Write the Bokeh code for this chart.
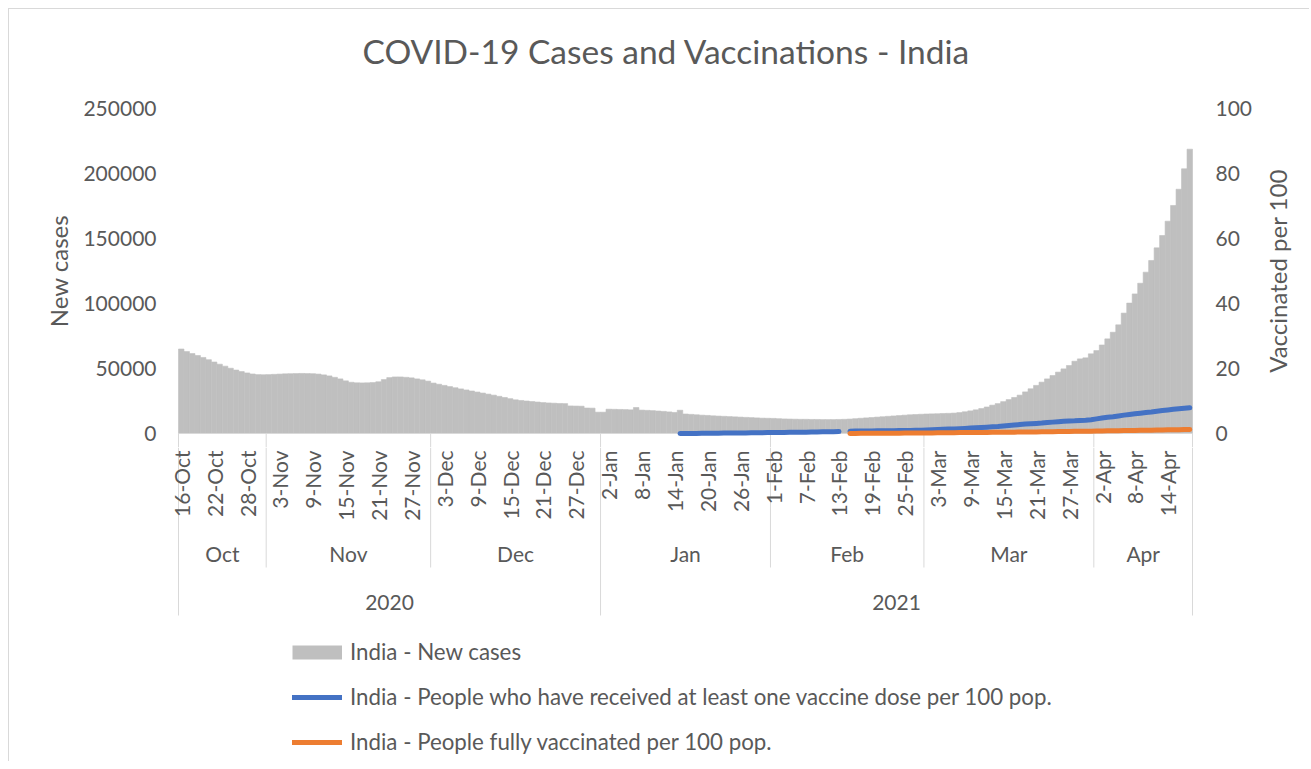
import math
import pandas as pd
from bokeh.plotting import figure
from bokeh.models import (Range1d, FixedTicker, ColumnDataSource, Legend,
                          LegendItem, BasicTickFormatter, Title)
from bokeh.layouts import column
from bokeh.embed import file_html
from bokeh.resources import INLINE
from bokeh.core.properties import value

FONT = "Lato"
TXT = "#595959"
LINEC = "#D9D9D9"
BAR = "#BFBFBF"
BLUE = "#4472C4"
ORANGE = "#ED7D31"

# ---------------- data ----------------
first_day = "2020-10-16"
last_day = "2021-04-18"
vacc_first_day = "2021-01-15"
full_first_day = "2021-02-15"

cases_oct = [65000, 63000, 61500, 60000, 58500, 56800, 55000, 53300, 51800, 50200,
             48800, 47600, 46600, 45800, 45300, 45200]
cases_nov = [45300, 45500, 45700, 45900, 46000, 46100, 46200, 46100, 46000, 45700,
             45100, 44300, 43200, 42000, 40500, 39400, 39000, 38900, 39000, 39200,
             39800, 41500, 43000, 43500, 43500, 43200, 42800, 42000, 41300, 40300]
cases_dec = [38800, 37900, 37000, 36100, 35200, 34300, 33500, 32700, 31900, 31100,
             30300, 29500, 28600, 27700, 26800, 25900, 25400, 25000, 24600, 24200,
             23800, 23500, 23300, 23100, 23000, 21200, 21100, 21000, 19600, 19500, 16400]
cases_jan = [16400, 18700, 18600, 18500, 18400, 18200, 20000, 18000, 17800, 17600,
             17300, 17000, 16600, 16200, 17900, 15000, 14700, 14400, 14100, 13900,
             13600, 13400, 13200, 13000, 12800, 12600, 12400, 12200, 12000, 11800, 11700]
cases_feb = [11600, 11400, 11200, 11100, 11000, 10900, 10900, 10800, 10800, 10700,
             10700, 10700, 10800, 10900, 11100, 11400, 11700, 12000, 12300, 12600,
             12900, 13200, 13500, 13800, 14100, 14400, 14600, 14800]
cases_mar = [15000, 15100, 15200, 15400, 15500, 15700, 16100, 16700, 17400, 18200,
             19200, 20400, 21800, 23000, 24500, 26100, 27700, 29500, 32000, 34400,
             37000, 39500, 42000, 44600, 47200, 49700, 52300, 55600, 57400, 58200, 61300]
cases_apr = [63800, 68100, 72800, 77900, 83600, 92600, 100300, 107400, 115600, 124100,
             133100, 142800, 152300, 163300, 175400, 187900, 203600, 218700]

nan = float("nan")
dose1_jan = [0.00, 0.01, 0.02, 0.03, 0.05, 0.06, 0.08, 0.10, 0.12, 0.12, 0.14, 0.15,
             0.17, 0.20, 0.23, 0.26, 0.27]
dose1_feb = [0.29, 0.31, 0.34, 0.37, 0.40, 0.42, 0.42, 0.45, 0.48, 0.51, 0.53, 0.55,
             0.58, nan, 0.72, 0.74, 0.76, 0.78, 0.80, 0.82, 0.83, 0.85, 0.87, 0.90,
             0.93, 0.96, 0.98, 1.00]
dose1_mar = [1.05, 1.12, 1.20, 1.28, 1.35, 1.42, 1.48, 1.57, 1.66, 1.76, 1.86, 1.96,
             2.06, 2.15, 2.30, 2.45, 2.60, 2.75, 2.90, 3.00, 3.10, 3.20, 3.35, 3.50,
             3.62, 3.74, 3.84, 3.90, 4.00, 4.10, 4.25]
dose1_apr = [4.50, 4.75, 5.00, 5.15, 5.40, 5.65, 5.85, 6.05, 6.25, 6.45, 6.60, 6.85,
             7.05, 7.25, 7.45, 7.60, 7.75, 7.90]

full_feb = [0.02, 0.03, 0.04, 0.05, 0.06, 0.07, 0.08, 0.09, 0.10, 0.11, 0.12, 0.14,
            0.15, 0.17]
full_mar = [0.18, 0.19, 0.21, 0.23, 0.24, 0.26, 0.27, 0.28, 0.29, 0.31, 0.32, 0.34,
            0.35, 0.36, 0.38, 0.40, 0.42, 0.44, 0.46, 0.48, 0.49, 0.51, 0.53, 0.56,
            0.59, 0.62, 0.65, 0.66, 0.67, 0.69, 0.72]
full_apr = [0.75, 0.78, 0.81, 0.83, 0.86, 0.89, 0.92, 0.95, 0.98, 1.01, 1.03, 1.06,
            1.09, 1.12, 1.15, 1.18, 1.21, 1.23]

day_tick_labels = ["16-Oct", "22-Oct", "28-Oct", "3-Nov", "9-Nov", "15-Nov", "21-Nov",
                   "27-Nov", "3-Dec", "9-Dec", "15-Dec", "21-Dec", "27-Dec", "2-Jan",
                   "8-Jan", "14-Jan", "20-Jan", "26-Jan", "1-Feb", "7-Feb", "13-Feb",
                   "19-Feb", "25-Feb", "3-Mar", "9-Mar", "15-Mar", "21-Mar", "27-Mar",
                   "2-Apr", "8-Apr", "14-Apr"]
day_tick_step = 6
month_names = ["Oct", "Nov", "Dec", "Jan", "Feb", "Mar", "Apr"]
year_names = ["2020", "2021"]
case_max = 250000
vacc_max = 100
case_ticks = [0, 50000, 100000, 150000, 200000, 250000]
vacc_ticks = [0, 20, 40, 60, 80, 100]
vacc_tick_labels = ["0", "20", "40", "60", "80", "100"]

title_text = "COVID-19 Cases and Vaccinations - India"
left_title = "New cases"
right_title = "Vaccinated per 100"
legend_labels = ["India - New cases",
                 "India - People who have received at least one vaccine dose per 100 pop.",
                 "India - People fully vaccinated per 100 pop."]

# ---------------- derived ----------------
dates = pd.date_range(first_day, last_day, freq="D")
N = len(dates)
cases = cases_oct + cases_nov + cases_dec + cases_jan + cases_feb + cases_mar + cases_apr
assert len(cases) == N
days = list(range(N))

dose1 = dose1_jan + dose1_feb + dose1_mar + dose1_apr
v0 = int(dates.get_loc(pd.Timestamp(vacc_first_day)))
dose1_days = list(range(v0, v0 + len(dose1)))
full = full_feb + full_mar + full_apr
f0 = int(dates.get_loc(pd.Timestamp(full_first_day)))
full_days = list(range(f0, f0 + len(full)))

month_starts = [0] + [i for i, d in enumerate(dates) if d.day == 1]
month_ends = month_starts[1:] + [N]
month_centers = [(s + e - 1) / 2 for s, e in zip(month_starts, month_ends)]
year_starts = [0] + [i for i, d in enumerate(dates) if d.day == 1 and d.month == 1]
year_ends = year_starts[1:] + [N]
year_centers = [(s + e - 1) / 2 for s, e in zip(year_starts, year_ends)]
inner_month_sep = [s - 0.5 for s in month_starts if s not in year_starts]
year_sep = [s - 0.5 for s in year_starts] + [N - 0.5]
all_sep = sorted(inner_month_sep + year_sep)

tick_pos = list(range(0, N, day_tick_step))[:len(day_tick_labels)]

# ---------------- layout numbers (px) ----------------
W = 1300
PLOT_W = 1014         # width of the category area (first bar edge .. last bar edge)
EXT_L, EXT_R = 8, 112 # frame margin beyond the category area (right part holds the 2nd scale)
DAY_PX = PLOT_W / N
FRAME_W = PLOT_W + EXT_L + EXT_R
LEFT = 161
RIGHT = W - LEFT - FRAME_W
TOP = 85
PLOT_H = 325          # height of the 0..max value area
PAD_T, PAD_B = 14, 14 # strips above max / below zero kept inside the main frame
HA = TOP + PAD_T + PLOT_H + PAD_B
HB = 314
DAY_LABEL_Y = 3
MONTH_LABEL_Y = 106
MONTH_SEP_END = 120
YEAR_LABEL_Y = 155
YEAR_SEP_END = 168
R_TICK_DX = 23        # px right of the last bar edge
R_TITLE_DX = 85

x0 = -0.5 - EXT_L / DAY_PX
x1 = N - 0.5 + EXT_R / DAY_PX
x_rng = Range1d(x0, x1)
case_rng = Range1d(-PAD_B * case_max / PLOT_H, case_max + PAD_T * case_max / PLOT_H)
vacc_rng = Range1d(-PAD_B * vacc_max / PLOT_H, vacc_max + PAD_T * vacc_max / PLOT_H)
x_right_edge = N - 0.5

# ---------------- main chart ----------------
p = figure(width=W, height=HA, x_range=x_rng, y_range=case_rng,
           x_axis_type=None, toolbar_location=None, output_backend="svg",
           min_border_left=LEFT, min_border_right=RIGHT,
           min_border_top=TOP, min_border_bottom=0)
p.extra_y_ranges = {"vacc": vacc_rng}
p.ygrid.visible = False
p.outline_line_color = None

# spacer between frame and title (title is always outermost)
p.add_layout(Title(text=" ", text_font_size="10px", standoff=6), "above")
p.title.text = title_text
p.title.text_font = FONT
p.title.text_font_size = "33.5px"
p.title.text_font_style = "normal"
p.title.text_color = TXT
p.title.align = "left"
p.title.offset = 184 + EXT_L
p.title.standoff = 10

ya = p.yaxis[0]
ya.ticker = FixedTicker(ticks=case_ticks)
ya.formatter = BasicTickFormatter(use_scientific=False)
ya.axis_label = left_title
ya.axis_label_text_font = FONT
ya.axis_label_text_font_size = "24px"
ya.axis_label_text_font_style = "normal"
ya.axis_label_text_color = TXT
ya.axis_label_standoff = 7
ya.major_label_text_font = FONT
ya.major_label_text_font_size = "21px"
ya.major_label_text_color = TXT
ya.major_label_standoff = 16 - EXT_L
ya.axis_line_color = None
ya.major_tick_line_color = None
ya.minor_tick_line_color = None

src = ColumnDataSource(dict(day=days, cases=cases))
p.vbar(x="day", top="cases", width=1.0, source=src,
       fill_color=BAR, line_color=BAR, line_width=0.6)
# horizontal axis line and the top of the group separators
p.segment(x0=[-0.5], y0=[0], x1=[x_right_edge], y1=[0], line_color=LINEC, line_width=1)
p.segment(x0=all_sep, y0=[0] * len(all_sep), x1=all_sep,
          y1=[case_rng.start] * len(all_sep), line_color=LINEC, line_width=1)
p.line(x=dose1_days, y=dose1, y_range_name="vacc", line_color=BLUE, line_width=5,
       line_cap="round", line_join="round")
p.line(x=full_days, y=full, y_range_name="vacc", line_color=ORANGE, line_width=5,
       line_cap="round", line_join="round")

# secondary value scale (per 100) on the right
rx = x_right_edge + R_TICK_DX / DAY_PX
p.text(x=[rx] * len(vacc_ticks), y=vacc_ticks, text=vacc_tick_labels, y_range_name="vacc",
       text_font=value(FONT), text_font_size="21px", text_color=TXT,
       text_align="left", text_baseline="middle")
p.text(x=[x_right_edge + R_TITLE_DX / DAY_PX], y=[vacc_max / 2], text=[right_title],
       y_range_name="vacc", angle=math.pi / 2,
       text_font=value(FONT), text_font_size="24px", text_color=TXT,
       text_align="center", text_baseline="middle")

# ---------------- category axis strip + legend ----------------
q = figure(width=W, height=HB, x_range=x_rng, y_range=Range1d(HB, 0),
           x_axis_type=None, y_axis_type=None, toolbar_location=None, output_backend="svg",
           min_border_left=LEFT, min_border_right=RIGHT,
           min_border_top=0, min_border_bottom=0)
q.outline_line_color = None
q.grid.visible = False

q.segment(x0=inner_month_sep, y0=[0] * len(inner_month_sep), x1=inner_month_sep,
          y1=[MONTH_SEP_END] * len(inner_month_sep), line_color=LINEC, line_width=1)
q.segment(x0=year_sep, y0=[0] * len(year_sep), x1=year_sep,
          y1=[YEAR_SEP_END] * len(year_sep), line_color=LINEC, line_width=1)
q.text(x=tick_pos, y=[DAY_LABEL_Y] * len(tick_pos), text=day_tick_labels,
       angle=math.pi / 2, text_font=value(FONT), text_font_size="21px", text_color=TXT,
       text_align="right", text_baseline="middle")
q.text(x=month_centers, y=[MONTH_LABEL_Y] * len(month_centers), text=month_names,
       text_font=value(FONT), text_font_size="21px", text_color=TXT,
       text_align="center", text_baseline="middle")
q.text(x=year_centers, y=[YEAR_LABEL_Y] * len(year_centers), text=year_names,
       text_font=value(FONT), text_font_size="21px", text_color=TXT,
       text_align="center", text_baseline="middle")

# legend proxies (no visible data)
g1 = q.line(x=[nan, nan], y=[nan, nan], line_color=BAR, line_width=14, line_cap="butt")
g2 = q.line(x=[nan, nan], y=[nan, nan], line_color=BLUE, line_width=5, line_cap="round")
g3 = q.line(x=[nan, nan], y=[nan, nan], line_color=ORANGE, line_width=5, line_cap="round")
leg = Legend(items=[LegendItem(label=legend_labels[0], renderers=[g1]),
                    LegendItem(label=legend_labels[1], renderers=[g2]),
                    LegendItem(label=legend_labels[2], renderers=[g3])],
             location=(114 + EXT_L, 6), orientation="vertical",
             glyph_width=50, glyph_height=20, label_standoff=8, spacing=18,
             padding=0, margin=0, border_line_color=None, background_fill_alpha=0,
             label_text_font=FONT, label_text_font_size="22.3px", label_text_color=TXT)
q.add_layout(leg)

layout = column(p, q, styles={"margin-left": "8px", "margin-top": "8px",
                              "border-left": f"1px solid {LINEC}",
                              "border-top": f"1px solid {LINEC}"})

open("out.html", "w").write(file_html(layout, INLINE, title=title_text))
